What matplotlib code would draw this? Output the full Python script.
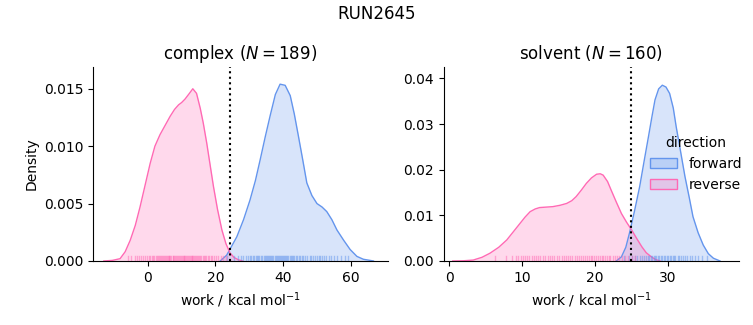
import matplotlib
matplotlib.use("Agg")
import matplotlib.pyplot as plt
from matplotlib.patches import Patch
from matplotlib.colors import to_rgba

# density curves (work, density)
cx_fwd_x = [21.4, 23.3, 26.3, 28.3, 30.2, 31.8, 33.2, 34.7, 36.2, 37.7, 39.1, 40.6, 42.1, 43.3, 44.5, 45.8,
            47.0, 48.5, 50.0, 51.5, 52.9, 54.4, 55.9, 57.9, 59.8, 61.8, 63.7, 66.7]
cx_fwd_d = [0.0, 0.0005, 0.0021, 0.0036, 0.0053, 0.0070, 0.0088, 0.0108, 0.0127, 0.0145, 0.0154, 0.0153,
            0.0144, 0.0128, 0.0109, 0.0088, 0.0068, 0.0057, 0.0050, 0.0047, 0.0043, 0.0036, 0.0027, 0.0018,
            0.0010, 0.0004, 0.00015, 0.0]
cx_rev_x = [-13.0, -10.5, -8.2, -6.7, -5.2, -3.7, -2.3, -0.8, 0.7, 2.1, 3.6, 5.1, 6.6, 7.9, 9.1, 10.0, 11.0,
            12.3, 13.3, 14.4, 15.5, 16.4, 17.4, 18.4, 19.4, 20.6, 21.9, 23.1, 24.3, 25.5, 26.8, 28.0]
cx_rev_d = [0.0, 0.00005, 0.0002, 0.0008, 0.0018, 0.0031, 0.0047, 0.0066, 0.0085, 0.0100, 0.0110, 0.0118,
            0.0126, 0.0132, 0.0136, 0.0138, 0.0141, 0.0146, 0.0150, 0.0146, 0.0133, 0.0120, 0.0103, 0.0084,
            0.0065, 0.0045, 0.0027, 0.0015, 0.0007, 0.0003, 0.0001, 0.0]
sv_fwd_x = [22.9, 23.6, 24.2, 24.7, 25.4, 26.1, 26.7, 27.3, 27.8, 28.2, 28.7, 29.2, 29.7, 30.2, 30.7, 31.1,
            31.7, 32.3, 32.9, 33.4, 34.1, 34.8, 35.5, 36.2, 37.1]
sv_fwd_d = [0.0, 0.0009, 0.0030, 0.0061, 0.0110, 0.0163, 0.0218, 0.0272, 0.0318, 0.0353, 0.0377, 0.0385,
            0.0381, 0.0367, 0.0335, 0.0294, 0.0240, 0.0185, 0.0138, 0.0097, 0.0062, 0.0035, 0.0016, 0.0006, 0.0]
sv_rev_x = [0.5, 2.0, 3.3, 4.5, 5.6, 6.8, 7.9, 8.8, 9.7, 10.4, 11.1, 11.8, 12.4, 13.3, 14.2, 15.2, 16.1,
            16.8, 17.4, 18.1, 18.8, 19.5, 20.2, 20.7, 21.1, 21.7, 22.2, 22.9, 23.6, 24.3, 25.0, 25.7, 26.4,
            27.0, 27.7, 28.3, 28.9]
sv_rev_d = [0.0, 0.00005, 0.0002, 0.0008, 0.0017, 0.0030, 0.0046, 0.0064, 0.0082, 0.0096, 0.0108, 0.0114,
            0.0117, 0.0118, 0.0119, 0.0122, 0.0126, 0.0132, 0.0141, 0.0155, 0.0170, 0.0182, 0.0190, 0.0191,
            0.0188, 0.0174, 0.0155, 0.0129, 0.0104, 0.0085, 0.0068, 0.0049, 0.0031, 0.0018, 0.0009, 0.0003, 0.0]

# individual work values (rug)
cx_rev_rug = [-5.8, -4.9, -3.9, -3.2, -2.5, -1.9, -1.4, -0.8, -0.2, 0.3, 0.7, 1.1, 1.5, 1.9, 2.4, 2.7,
              3.0, 3.3, 3.6, 3.9, 4.2, 4.5, 4.8, 5.1, 5.3, 5.6, 5.9, 6.2, 6.4, 6.7, 7.0, 7.3, 7.5, 7.8,
              8.1, 8.4, 8.6, 8.9, 9.2, 9.5, 9.7, 10.0, 10.3, 10.6, 10.8, 11.1, 11.4, 11.7, 11.9, 12.2,
              12.5, 12.8, 13.0, 13.2, 13.4, 13.7, 13.9, 14.2, 14.5, 14.8, 15.1, 15.5, 15.8, 16.2, 16.6,
              17.0, 17.3, 17.8, 18.2, 18.6, 19.0, 19.6, 20.1, 20.8, 21.5, 22.3, 23.2]
cx_fwd_rug = [23.5, 25.4, 26.8, 27.6, 28.2, 28.9, 29.5, 30.1, 30.6, 31.0, 31.4, 31.9, 32.3, 32.7, 33.0,
              33.4, 33.8, 34.2, 34.5, 34.9, 35.2, 35.6, 35.9, 36.2, 36.5, 36.8, 37.1, 37.5, 37.8, 38.1,
              38.4, 38.7, 39.0, 39.3, 39.6, 39.9, 40.2, 40.6, 40.9, 41.2, 41.5, 41.9, 42.2, 42.6, 42.9,
              43.3, 43.7, 44.2, 44.6, 45.1, 45.5, 46.0, 46.6, 47.2, 47.8, 48.3, 48.9, 49.5, 50.1, 50.6,
              51.0, 51.6, 52.2, 52.8, 53.5, 54.2, 55.0, 56.0, 57.2, 58.3, 59.3]
sv_rev_rug = [6.3, 7.8, 8.6, 9.1, 9.5, 9.8, 10.1, 10.4, 10.7, 11.0, 11.3, 11.6, 11.9, 12.2, 12.5, 12.9,
              13.2, 13.5, 13.8, 14.1, 14.4, 14.8, 15.1, 15.4, 15.7, 16.0, 16.3, 16.6, 16.9, 17.2, 17.5,
              17.8, 18.0, 18.3, 18.6, 18.9, 19.1, 19.4, 19.6, 19.9, 20.1, 20.4, 20.6, 20.9, 21.1, 21.4,
              21.6, 21.9, 22.1, 22.4, 22.7, 23.0, 23.3, 23.7, 24.1, 24.5, 25.0, 25.4]
sv_fwd_rug = [24.0, 24.7, 25.1, 25.5, 25.8, 26.1, 26.4, 26.7, 26.9, 27.2, 27.4, 27.6, 27.8, 28.0, 28.2,
              28.4, 28.6, 28.8, 29.0, 29.2, 29.4, 29.6, 29.8, 30.0, 30.2, 30.4, 30.6, 30.8, 31.0, 31.3,
              31.5, 31.8, 32.0, 32.3, 32.6, 33.0, 33.3, 33.7, 34.1, 34.6, 35.3]

vlines = [24.3, 24.9]
titles = ["complex ($N = 189$)", "solvent ($N = 160$)"]

blue = "#6495ED"
pink = "#FF69B4"

fig = plt.figure(figsize=(7.53, 3.25), dpi=100)
ax1 = fig.add_axes([0.1235, 0.197, 0.3918, 0.597])
ax2 = fig.add_axes([0.5896, 0.197, 0.3918, 0.597])

panels = [
    (ax1, cx_fwd_x, cx_fwd_d, cx_rev_x, cx_rev_d, cx_fwd_rug, cx_rev_rug),
    (ax2, sv_fwd_x, sv_fwd_d, sv_rev_x, sv_rev_d, sv_fwd_rug, sv_rev_rug),
]

for i, (ax, fx, fd, rx, rd, frug, rrug) in enumerate(panels):
    ax.fill_between(fx, fd, color=blue, alpha=0.25, lw=0)
    ax.plot(fx, fd, color=blue, lw=1)
    ax.fill_between(rx, rd, color=pink, alpha=0.25, lw=0)
    ax.plot(rx, rd, color=pink, lw=1)
    for v in frug:
        ax.axvline(v, ymin=0, ymax=0.025, color=blue, alpha=0.5, lw=1)
    for v in rrug:
        ax.axvline(v, ymin=0, ymax=0.025, color=pink, alpha=0.5, lw=1)
    ax.axvline(vlines[i], color="black", ls=":", lw=1.5)
    ax.set_title(titles[i], fontsize=12)
    ax.set_xlabel("work / kcal mol$^{-1}$")
    ax.spines["top"].set_visible(False)
    ax.spines["right"].set_visible(False)

ax1.set_xlim(-16.2, 71.0)
ax1.set_ylim(0, 0.0169)
ax1.set_yticks([0, 0.005, 0.010, 0.015])
ax1.set_ylabel("Density")

ax2.set_xlim(-0.7, 39.7)
ax2.set_ylim(0, 0.0425)
ax2.set_xticks([0, 10, 20, 30])
ax2.set_yticks([0, 0.01, 0.02, 0.03, 0.04])

handles = [Patch(facecolor=to_rgba(blue, 0.25), edgecolor=blue, label="forward"),
           Patch(facecolor=to_rgba(pink, 0.25), edgecolor=pink, label="reverse")]
leg = ax2.legend(handles=handles, title="direction", frameon=False,
                 loc="center left", bbox_to_anchor=(0.655, 0.5))

fig.suptitle("RUN2645", fontsize=12, y=0.985)

fig.savefig("out.png", dpi=100)
